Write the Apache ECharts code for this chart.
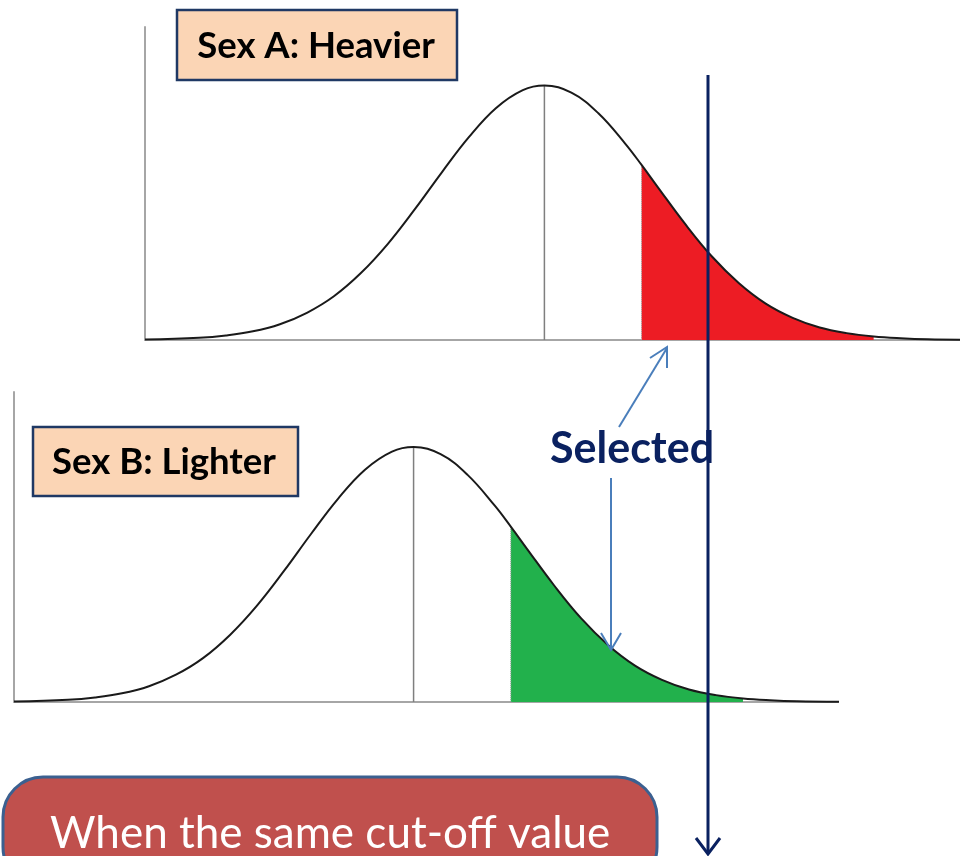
<!DOCTYPE html>
<html>
<head>
<meta charset="utf-8">
<script src="https://cdn.jsdelivr.net/npm/echarts@6/dist/echarts.min.js"></script>
<style>
  html, body { margin: 0; padding: 0; background: #fff; }
  #chart { width: 960px; height: 856px; }
</style>
</head>
<body>
<div id="chart"></div>
<script>
// weight (arbitrary units from the left axis) and density in % of peak
const weights  = [0, 5, 7.5, 10, 12.5, 15, 17.5, 20, 22.5, 25, 27.5, 30, 32.5, 35, 37, 39.5, 42, 44.5, 46, 47.5, 50, 52.5, 55, 57.5, 60, 62.5, 65, 67.5, 70, 72.5, 76.5];
const densityA = [0.2, 0.9, 1.8, 3.4, 6.2, 10.7, 17.2, 26.3, 37.8, 51.4, 65.9, 79.7, 91.1, 98.2, 100, 97.2, 89.1, 77.1, 68.8, 60.1, 45.8, 32.9, 22.4, 14.3, 8.7, 4.9, 2.7, 1.4, 0.7, 0.3, 0.1];
const densityB = [0.2, 0.9, 1.8, 3.4, 6.2, 10.7, 17.2, 26.3, 37.8, 51.4, 65.9, 79.7, 91.1, 98.2, 100, 97.2, 89.1, 77.1, 68.8, 60.1, 45.8, 32.9, 22.4, 14.3, 8.7, 4.9, 2.7, 1.4, 0.7, 0.3, 0.1];
const means    = [37, 37];        // mean weight of each sex
const cutoffs  = [46, 46];        // start of the selected tail
const tailEnds = [67.5, 67.5];    // where the shaded tail stops
const panelLabels = ['Sex A: Heavier', 'Sex B: Lighter'];
const tailColors  = ['#ed1c24', '#22b14c'];

let myChart = echarts.init(document.getElementById('chart'));

function pairs(ys) {
  return weights.map((w, i) => [w, ys[i]]);
}

let series = [];
[densityA, densityB].forEach((dens, p) => {
  let all = pairs(dens);
  let tail = all.filter(d => d[0] >= cutoffs[p] && d[0] <= tailEnds[p]);
  let cutVal = dens[weights.indexOf(cutoffs[p])];
  let peak = dens[weights.indexOf(means[p])];
  series.push({
    type: 'line', xAxisIndex: p, yAxisIndex: p, data: tail,
    smooth: 0.4, symbol: 'none', silent: true, z: 1,
    lineStyle: { width: 0 },
    areaStyle: { color: tailColors[p], opacity: 1 }
  });
  series.push({
    type: 'line', xAxisIndex: p, yAxisIndex: p,
    data: [[cutoffs[p], 0], [cutoffs[p], cutVal]],
    symbol: 'none', silent: true, z: 2,
    lineStyle: { color: '#a0a0a0', width: 1, type: 'dotted' }
  });
  series.push({
    type: 'line', xAxisIndex: p, yAxisIndex: p,
    data: [[means[p], 0], [means[p], peak]],
    symbol: 'none', silent: true, z: 2,
    lineStyle: { color: '#7f7f7f', width: 1.5 }
  });
  series.push({
    type: 'line', xAxisIndex: p, yAxisIndex: p, data: all,
    smooth: 0.4, symbol: 'none', silent: true, z: 3,
    lineStyle: { color: '#1a1a1a', width: 2 }
  });
});

const axisLine = { show: true, onZero: false, lineStyle: { color: '#a6a6a6', width: 2 } };
function xAx(i, max) {
  return { type: 'value', gridIndex: i, min: 0, max: max, axisLine: axisLine,
           axisTick: { show: false }, axisLabel: { show: false }, splitLine: { show: false } };
}
function yAx(i, max) {
  return { type: 'value', gridIndex: i, min: 0, max: max, axisLine: axisLine,
           axisTick: { show: false }, axisLabel: { show: false }, splitLine: { show: false } };
}

const navy = '#0a2160';
const arrowBlue = '#4a7ebb';

myChart.setOption({
  backgroundColor: '#fff',
  animation: false,
  grid: [
    { left: 145, top: 27, width: 815, height: 313 },
    { left: 14, top: 392, width: 824, height: 310 }
  ],
  xAxis: [xAx(0, 75.5), xAx(1, 76.3)],
  yAxis: [yAx(0, 123), yAx(1, 121.6)],
  series: series,
  graphic: [
    { type: 'rect', shape: { x: 177, y: 10, width: 280, height: 70 }, z: 10,
      style: { fill: '#fbd5b5', stroke: '#1f3864', lineWidth: 2.5 } },
    { type: 'text', x: 316, y: 46, z: 11,
      style: { text: panelLabels[0], fill: '#000', font: 'bold 36.5px Lato',
               align: 'center', verticalAlign: 'middle' } },
    { type: 'rect', shape: { x: 33, y: 427, width: 265, height: 69 }, z: 10,
      style: { fill: '#fbd5b5', stroke: '#1f3864', lineWidth: 2.5 } },
    { type: 'text', x: 164, y: 462, z: 11,
      style: { text: panelLabels[1], fill: '#000', font: 'bold 36.5px Lato',
               align: 'center', verticalAlign: 'middle' } },
    { type: 'text', x: 550, y: 449, z: 20,
      style: { text: 'Selected', fill: navy, font: 'bold 43px Lato',
               align: 'left', verticalAlign: 'middle' } },
    // thin blue arrows from the label
    { type: 'line', shape: { x1: 619, y1: 427, x2: 667, y2: 348 }, z: 20,
      style: { stroke: arrowBlue, lineWidth: 2 } },
    { type: 'polyline', shape: { points: [[650, 358], [667, 347], [667, 368]] }, z: 20,
      style: { stroke: arrowBlue, lineWidth: 2, fill: null } },
    { type: 'line', shape: { x1: 611, y1: 478, x2: 611, y2: 649 }, z: 20,
      style: { stroke: arrowBlue, lineWidth: 2 } },
    { type: 'polyline', shape: { points: [[601, 633], [611, 650], [621, 633]] }, z: 20,
      style: { stroke: arrowBlue, lineWidth: 2, fill: null } },
    // the cut-off arrow
    { type: 'line', shape: { x1: 708, y1: 75, x2: 708, y2: 854 }, z: 30,
      style: { stroke: navy, lineWidth: 3 } },
    { type: 'polyline', shape: { points: [[696, 838], [708, 854], [720, 838]] }, z: 30,
      style: { stroke: navy, lineWidth: 3, fill: null } },
    // bottom note
    { type: 'rect', shape: { x: 3, y: 777, width: 654, height: 110, r: 40 }, z: 10,
      style: { fill: '#c0504d', stroke: '#3b6090', lineWidth: 3 } },
    { type: 'text', x: 50, y: 834, z: 11,
      style: { text: 'When the same cut-off value', fill: '#fff', font: '44px Lato',
               align: 'left', verticalAlign: 'middle' } }
  ]
});

window.addEventListener('resize', function () {
  myChart.resize();
});
</script>
</body>
</html>
